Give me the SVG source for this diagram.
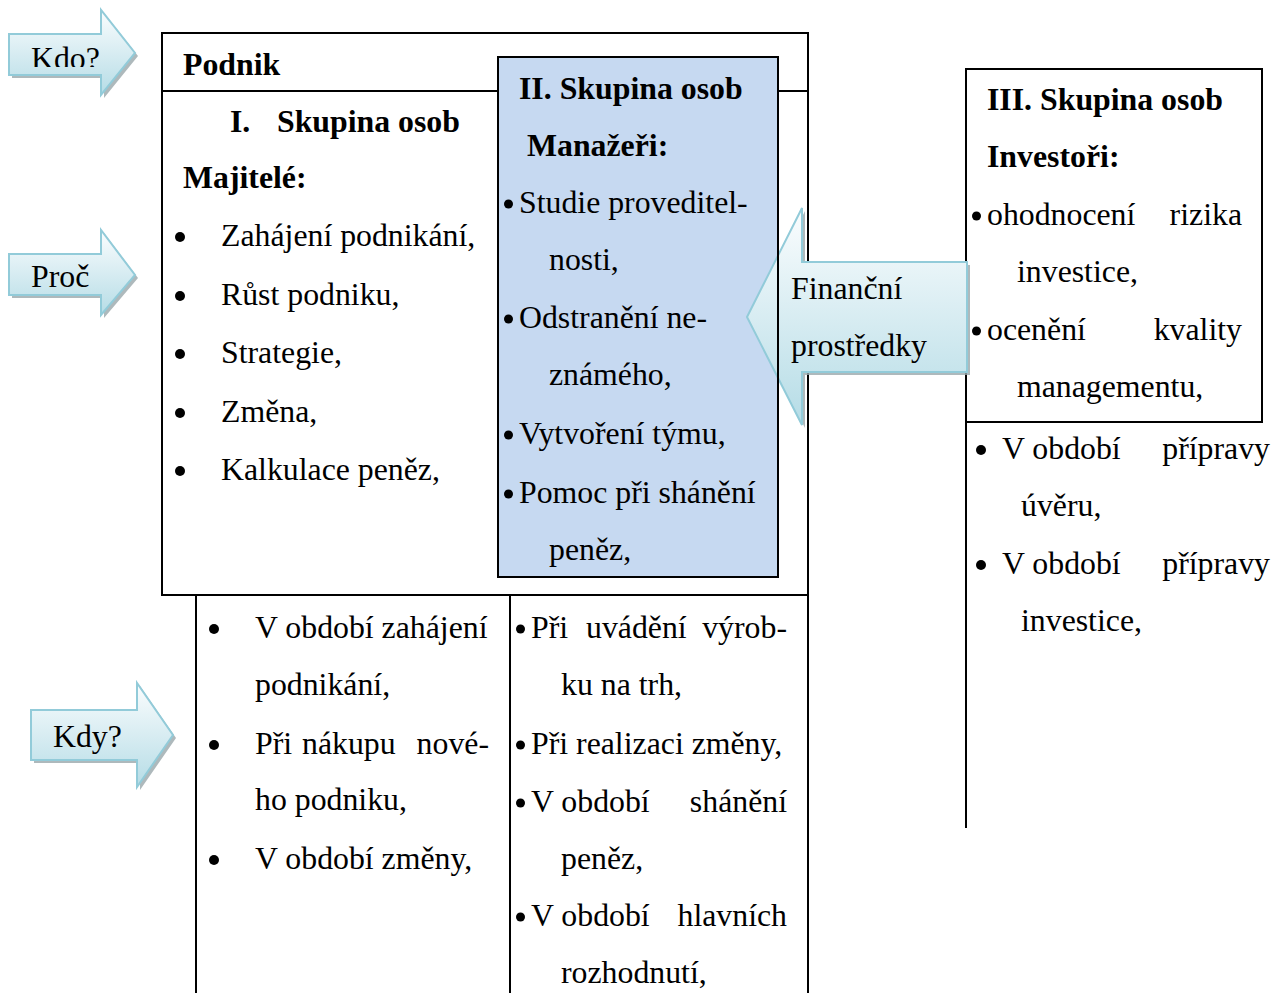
<svg xmlns="http://www.w3.org/2000/svg" width="1284" height="993" viewBox="0 0 1284 993">
<defs>
<linearGradient id="aq" x1="0" y1="0" x2="0" y2="1">
<stop offset="0" stop-color="#fbfdfe"/>
<stop offset="1" stop-color="#b5dce6"/>
</linearGradient>
<clipPath id="kdoclip"><rect x="0" y="0" width="140" height="67"/></clipPath>
</defs>
<style>
text{font-family:"Liberation Serif","Times New Roman",serif;font-size:31.8px;fill:#000}
.b{font-weight:bold}
.box{fill:none;stroke:#000;stroke-width:2}
.ln{stroke:#000;stroke-width:2;fill:none}
.arr{fill:url(#aq);stroke:#92cbd9;stroke-width:2}
.sh{fill:#9aa7ab;opacity:0.8}
.blue{fill:#c6d9f1;stroke:#000;stroke-width:2}
.bu{fill:#000}
</style>
<rect width="1284" height="993" fill="#fff"/>

<g id="podnik">
<rect class="box" x="162" y="33" width="646" height="562"/>
<line class="ln" x1="162" y1="91" x2="498" y2="91"/>
<line class="ln" x1="778" y1="91" x2="808" y2="91"/>
<text class="b" x="183" y="75">Podnik</text>
<text class="b" x="230" y="132">I.</text>
<text class="b" x="277" y="132">Skupina osob</text>
<text class="b" x="183" y="188">Majitelé:</text>
<circle class="bu" cx="180" cy="237" r="5"/><text x="221" y="246">Zahájení podnikání,</text>
<circle class="bu" cx="180" cy="296" r="5"/><text x="221" y="305">Růst podniku,</text>
<circle class="bu" cx="180" cy="354" r="5"/><text x="221" y="363">Strategie,</text>
<circle class="bu" cx="180" cy="413" r="5"/><text x="221" y="422">Změna,</text>
<circle class="bu" cx="180" cy="471" r="5"/><text x="221" y="480">Kalkulace peněz,</text>
</g>

<g id="manazeri">
<rect class="blue" x="498" y="57" width="280" height="520"/>
<text class="b" x="519" y="99">II. Skupina osob</text>
<text class="b" x="527" y="156">Manažeři:</text>
<circle class="bu" cx="508.5" cy="204" r="4.5"/><text x="519" y="213">Studie proveditel-</text>
<text x="549" y="270">nosti,</text>
<circle class="bu" cx="508.5" cy="319" r="4.5"/><text x="519" y="328">Odstranění ne-</text>
<text x="549" y="385">známého,</text>
<circle class="bu" cx="508.5" cy="435" r="4.5"/><text x="519" y="444">Vytvoření týmu,</text>
<circle class="bu" cx="508.5" cy="494" r="4.5"/><text x="519" y="503">Pomoc při shánění</text>
<text x="549" y="560">peněz,</text>
</g>

<g id="kdy-majitele">
<line class="ln" x1="196" y1="595" x2="196" y2="993"/>
<circle class="bu" cx="214" cy="629" r="5"/><text x="255" y="638">V období zahájení</text>
<text x="255" y="695">podnikání,</text>
<circle class="bu" cx="214" cy="745" r="5"/><text x="255" y="754">Při</text><text x="302" y="754">nákupu</text><text x="489" y="754" text-anchor="end">nové-</text>
<text x="255" y="810">ho podniku,</text>
<circle class="bu" cx="214" cy="860" r="5"/><text x="255" y="869">V období změny,</text>
</g>

<g id="kdy-manazeri">
<line class="ln" x1="510" y1="595" x2="510" y2="993"/>
<line class="ln" x1="808" y1="595" x2="808" y2="993"/>
<circle class="bu" cx="520.5" cy="629" r="4.5"/><text x="531" y="638">Při</text><text x="586" y="638">uvádění</text><text x="787" y="638" text-anchor="end">výrob-</text>
<text x="561" y="695">ku na trh,</text>
<circle class="bu" cx="520.5" cy="745" r="4.5"/><text x="531" y="754">Při realizaci změny,</text>
<circle class="bu" cx="520.5" cy="803" r="4.5"/><text x="531" y="812">V období</text><text x="787" y="812" text-anchor="end">shánění</text>
<text x="561" y="869">peněz,</text>
<circle class="bu" cx="520.5" cy="917" r="4.5"/><text x="531" y="926">V období</text><text x="787" y="926" text-anchor="end">hlavních</text>
<text x="561" y="983">rozhodnutí,</text>
</g>

<g id="investori">
<rect class="box" x="966" y="69" width="296" height="353"/>
<text class="b" x="987" y="110">III. Skupina osob</text>
<text class="b" x="987" y="167">Investoři:</text>
<circle class="bu" cx="976.5" cy="216" r="4.5"/><text x="987" y="225">ohodnocení</text><text x="1242" y="225" text-anchor="end">rizika</text>
<text x="1017" y="282">investice,</text>
<circle class="bu" cx="976.5" cy="331" r="4.5"/><text x="987" y="340">ocenění</text><text x="1242" y="340" text-anchor="end">kvality</text>
<text x="1017" y="397">managementu,</text>
</g>

<g id="kdy-investori">
<line class="ln" x1="966" y1="422" x2="966" y2="828"/>
<circle class="bu" cx="981" cy="450" r="5"/><text x="1002" y="459">V období</text><text x="1270" y="459" text-anchor="end">přípravy</text>
<text x="1021" y="516">úvěru,</text>
<circle class="bu" cx="981" cy="565" r="5"/><text x="1002" y="574">V období</text><text x="1270" y="574" text-anchor="end">přípravy</text>
<text x="1021" y="631">investice,</text>
</g>

<g id="kdo">
<polygon class="sh" points="12,37 104,37 104,13 138,56 104,98 104,78 12,78"/>
<polygon class="arr" points="9,34 101,34 101,10 135,53 101,95 101,75 9,75"/>
<text x="31" y="69" clip-path="url(#kdoclip)">Kdo?</text>
</g>

<g id="proc">
<polygon class="sh" points="12,257 104,257 104,233 138,278 104,318 104,298 12,298"/>
<polygon class="arr" points="9,254 101,254 101,230 135,275 101,315 101,295 9,295"/>
<text x="31" y="287">Proč</text>
</g>

<g id="kdy">
<polygon class="sh" points="34,713 140,713 140,686 176,738 140,790 140,763 34,763"/>
<polygon class="arr" points="31,710 137,710 137,683 173,735 137,787 137,760 31,760"/>
<text x="53" y="747">Kdy?</text>
</g>

<g id="connectors">
<g id="financni">
<polygon class="sh" points="750,320 805,211 805,265 970,265 970,375 805,375 805,428"/>
<polygon class="arr" points="747,317 802,208 802,262 967,262 967,372 802,372 802,425"/>
<line class="ln" x1="778" y1="208" x2="778" y2="425"/>
<text x="791" y="299">Finanční</text>
<text x="791" y="356">prostředky</text>
</g>
</g>
</svg>
